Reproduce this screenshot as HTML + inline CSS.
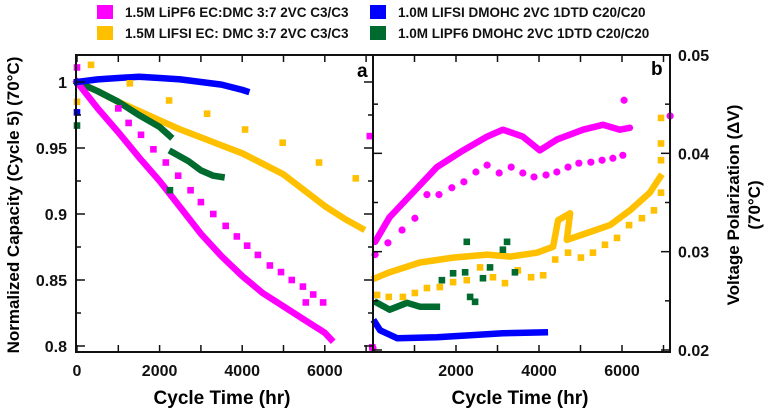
<!DOCTYPE html>
<html><head><meta charset="utf-8"><style>
body{margin:0;background:#fff;}
svg{display:block;font-family:"Liberation Sans",Arial,sans-serif;}
</style></head><body>
<svg id="chart" width="768" height="413" viewBox="0 0 768 413" xmlns="http://www.w3.org/2000/svg">
<g id="legend" font-size="13.5" font-weight="bold" fill="#111">
  <g><rect x="97" y="5" width="16" height="14" fill="#ff00ff"/><text x="125" y="17">1.5M LiPF6 EC:DMC 3:7 2VC C3/C3</text></g>
  <g><rect x="97" y="26" width="16" height="14" fill="#ffc000"/><text x="125" y="38">1.5M LIFSI EC: DMC 3:7 2VC C3/C3</text></g>
  <g><rect x="370" y="5" width="16" height="14" fill="#0000ff"/><text x="398" y="17">1.0M LIFSI DMOHC 2VC 1DTD C20/C20</text></g>
  <g><rect x="370" y="26" width="16" height="14" fill="#006b2e"/><text x="398" y="38">1.0M LIPF6 DMOHC 2VC 1DTD C20/C20</text></g>
</g>
<g id="plot"></g>
<text transform="translate(19,205) rotate(-90)" text-anchor="middle" font-size="17" font-weight="bold">Normalized Capacity (Cycle 5) (70°C)</text>
<text transform="translate(739,205) rotate(-90)" text-anchor="middle" font-size="17" font-weight="bold">Voltage Polarization (ΔV)</text>
<text transform="translate(760,205) rotate(-90)" text-anchor="middle" font-size="17" font-weight="bold">(70°C)</text>
<text x="222" y="404" text-anchor="middle" font-size="19" font-weight="bold">Cycle Time (hr)</text>
<text x="520" y="404" text-anchor="middle" font-size="19" font-weight="bold">Cycle Time (hr)</text>
<text x="357" y="77" font-size="19" font-weight="bold">a</text>
<text x="651" y="75" font-size="19" font-weight="bold">b</text>
</svg>
<script>
// ---- Panel a: capacity data (hr, normalized capacity)
const capMagentaX = [0,500,1000,1500,2000,2500,3000,3500,4000,4500,5000,5500,6000,6150];
const capMagentaY = [1.0,0.98,0.962,0.943,0.925,0.905,0.885,0.868,0.853,0.84,0.83,0.82,0.81,0.805];
const capMagentaPtsX = [0,1000,1250,1550,1850,2150,2450,2750,3000,3300,3600,3870,4120,4380,4670,4940,5200,5470,5720,5540,5960,7090,7150];
const capMagentaPtsY = [1.011,0.98,0.969,0.96,0.949,0.939,0.929,0.918,0.909,0.9,0.891,0.883,0.876,0.869,0.861,0.856,0.85,0.845,0.839,0.833,0.833,0.959,0.799];
const capYellowX = [0,500,1000,1500,2000,2500,3000,3500,4000,4500,5000,5500,6000,6500,6900];
const capYellowY = [1.0,0.993,0.985,0.978,0.971,0.964,0.958,0.952,0.946,0.938,0.93,0.918,0.906,0.896,0.889];
const capYellowPtsX = [340,0,1280,2230,3150,4070,4980,5860,6750];
const capYellowPtsY = [1.013,0.985,0.999,0.986,0.976,0.964,0.954,0.939,0.927];
const capBlueX = [0,500,1000,1500,2000,2500,3000,3500,4000,4100];
const capBlueY = [1.0,1.002,1.003,1.004,1.003,1.002,1.0,0.998,0.994,0.993];
const capBluePtsX = [0]; const capBluePtsY = [0.977];
const capGreenX1 = [0,500,1000,1500,2000,2250];
const capGreenY1 = [1.0,0.993,0.985,0.975,0.966,0.959];
const capGreenX2 = [2300,2700,3000,3300,3500];
const capGreenY2 = [0.947,0.94,0.933,0.929,0.928];
const capGreenPtsX = [0,2250]; const capGreenPtsY = [0.967,0.918];
// ---- Panel b: voltage polarization (hr, V)
const vMagentaX = [50,400,960,1540,2170,2750,3130,3610,4020,4430,5060,5540,5950,6190];
const vMagentaY = [0.031,0.0335,0.036,0.0386,0.0403,0.0417,0.0424,0.0417,0.0403,0.0414,0.0424,0.0429,0.0424,0.0426];
const vMagentaPtsX = [50,360,700,1010,1300,1590,1900,2190,2480,2750,3040,3330,3610,3880,4170,4430,4700,4960,5250,5520,5780,6020,6050,7160,0];
const vMagentaPtsY = [0.0297,0.0309,0.0322,0.0334,0.0358,0.0358,0.0365,0.0371,0.0381,0.0388,0.038,0.0386,0.038,0.0376,0.0378,0.0381,0.0386,0.039,0.0391,0.0393,0.0395,0.0398,0.0454,0.0438,0.0202];
const vYellowX = [50,400,1130,1930,2750,3300,3950,4340,4460,4750,4670,5160,5710,6190,6670,6920];
const vYellowY = [0.0273,0.0279,0.0289,0.0294,0.0297,0.0295,0.0299,0.0305,0.0332,0.0339,0.0312,0.0319,0.0327,0.0342,0.036,0.0376];
const vYellowPtsX = [100,380,720,1010,1300,1610,1930,2260,2580,2890,3180,3490,3810,4100,4390,4700,5010,5300,5590,5880,6170,6480,6770,6940,6940,6940,6940];
const vYellowPtsY = [0.0256,0.0254,0.0254,0.0258,0.0263,0.0264,0.0269,0.0271,0.0284,0.0274,0.0268,0.0281,0.0274,0.0276,0.0292,0.0299,0.0294,0.0299,0.0307,0.0314,0.0327,0.0334,0.0342,0.036,0.0393,0.041,0.0436];
const vGreenX = [100,400,820,1130,1540];
const vGreenY = [0.0248,0.0241,0.0248,0.0244,0.0244];
const vGreenPtsX = [1660,1930,2220,2260,2340,2460,2650,2820,3130,3230,3420];
const vGreenPtsY = [0.0271,0.0278,0.0279,0.031,0.0254,0.0249,0.0273,0.0284,0.0302,0.031,0.0279];
const vBlueX = [50,170,580,1540,2340,3130,4140];
const vBlueY = [0.0228,0.022,0.0212,0.0213,0.0215,0.0217,0.0218];
// ---- tick labels
const capTicks = [0.8,0.85,0.9,0.95,1];
const capTickLabels = ["0.8","0.85","0.9","0.95","1"];
const vTicks = [0.02,0.03,0.04,0.05];
const vTickLabels = ["0.02","0.03","0.04","0.05"];
const xTicksA = [0,2000,4000,6000];
const xTicksB = [2000,4000,6000];

const NS = "http://www.w3.org/2000/svg";
const plot = document.getElementById('plot');
const xa = h => 77 + h/1000*41.3;
const ya = v => 82 - (v-1)/0.2*264;
const xb = h => 373 + h/1000*41.5;
const yb = v => 350 - (v-0.02)/0.03*295;
const C = {m:"#ff00ff", y:"#ffc000", b:"#0000ff", g:"#006b2e"};

function mk(tag, attrs){const e=document.createElementNS(NS,tag);for(const k in attrs)e.setAttribute(k,attrs[k]);plot.appendChild(e);return e;}
function band(xs, ys, fx, fy, color, name, round){
  const p = xs.map((x,i)=>fx(x).toFixed(1)+","+fy(ys[i]).toFixed(1)).join(" ");
  const e = mk('polyline',{points:p,fill:"none",stroke:color,"stroke-width":6.5,"stroke-linejoin":"round","stroke-linecap":round?"round":"square"});
  
  
}
function pts(xs, ys, fx, fy, color, name, circle){
  xs.forEach((x,i)=>{
    let e;
    if(circle) e = mk('circle',{cx:fx(x),cy:fy(ys[i]),r:3.6,fill:color});
    else e = mk('rect',{x:fx(x)-3.3,y:fy(ys[i])-3.3,width:6.6,height:6.6,fill:color});
    
    
  });
}
// Panel a
band(capYellowX,capYellowY,xa,ya,C.y,'cap-lifsi-ecdmc-line');
band(capGreenX1,capGreenY1,xa,ya,C.g,'cap-lipf6-dmohc-line');
band(capGreenX2,capGreenY2,xa,ya,C.g,'cap-lipf6-dmohc-line-2');
band(capMagentaX,capMagentaY,xa,ya,C.m,'cap-lipf6-ecdmc-line');
band(capBlueX,capBlueY,xa,ya,C.b,'cap-lifsi-dmohc-line');
pts(capMagentaPtsX,capMagentaPtsY,xa,ya,C.m,'cap-lipf6-ecdmc-point');
pts(capYellowPtsX,capYellowPtsY,xa,ya,C.y,'cap-lifsi-ecdmc-point');
pts(capBluePtsX,capBluePtsY,xa,ya,C.b,'cap-lifsi-dmohc-point');
pts(capGreenPtsX,capGreenPtsY,xa,ya,C.g,'cap-lipf6-dmohc-point');
// Panel b
band(vMagentaX,vMagentaY,xb,yb,C.m,'volt-lipf6-ecdmc-line',true);
band(vYellowX,vYellowY,xb,yb,C.y,'volt-lifsi-ecdmc-line');
band(vGreenX,vGreenY,xb,yb,C.g,'volt-lipf6-dmohc-line');
band(vBlueX,vBlueY,xb,yb,C.b,'volt-lifsi-dmohc-line');
pts(vMagentaPtsX,vMagentaPtsY,xb,yb,C.m,'volt-lipf6-ecdmc-point',true);
pts(vYellowPtsX,vYellowPtsY,xb,yb,C.y,'volt-lifsi-ecdmc-point');
pts(vGreenPtsX,vGreenPtsY,xb,yb,C.g,'volt-lipf6-dmohc-point');

// frames
const fa = mk('rect',{x:76,y:55,width:297,height:297,fill:"none",stroke:"#111","stroke-width":2});


const fb = mk('rect',{x:373,y:55,width:297,height:297,fill:"none",stroke:"#111","stroke-width":2});



function tick(x1,y1,x2,y2){const e=mk('line',{x1,y1,x2,y2,stroke:"#111","stroke-width":1.5});}
function label(x,y,t,anchor,name){const e=mk('text',{x,y,"text-anchor":anchor,"font-size":16,"font-weight":"bold",fill:"#111"});e.textContent=t;}
for(let k=0;k<=10;k++){
  const h=k*1000;
  const x1=xa(h); if(x1<=373){tick(x1,352,x1,345);tick(x1,55,x1,62);}
  const x2=xb(h); if(x2<=670 && h>0){tick(x2,352,x2,345);tick(x2,55,x2,62);}
}
xTicksA.forEach(h=>label(xa(h),376,String(h),"middle","x-tick-label-a"));
xTicksB.forEach(h=>label(xb(h),376,String(h),"middle","x-tick-label-b"));
for(let k=0;k<=8;k++){const v=0.8+k*0.025;const y=ya(v);const L=k%2==0?9:5;tick(76,y,76+L,y);tick(373,y,373-L,y);}
capTicks.forEach((v,i)=>label(67,ya(v)+6,capTickLabels[i],"end","y-tick-label-left"));
for(let k=0;k<=6;k++){const v=0.02+k*0.005;const y=yb(v);const L=k%2==0?9:5;tick(670,y,670-L,y);tick(373,y,373+L,y);}
vTicks.forEach((v,i)=>label(678,yb(v)+6,vTickLabels[i],"start","y-tick-label-right"));
</script>
</body></html>
